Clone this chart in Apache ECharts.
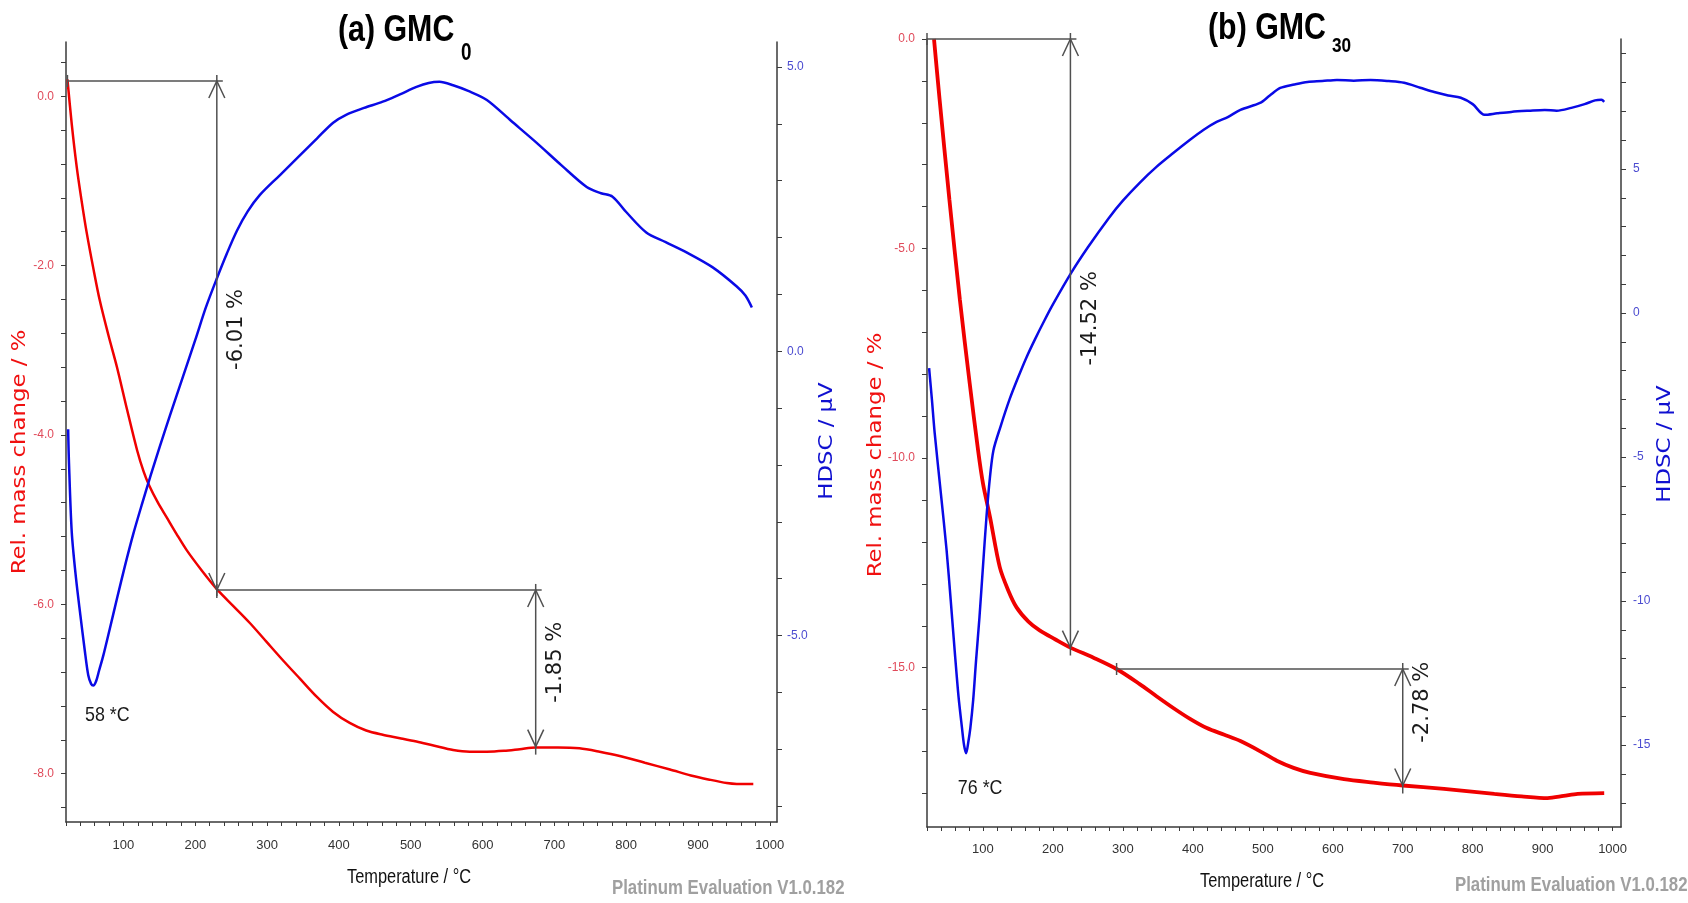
<!DOCTYPE html>
<html>
<head>
<meta charset="utf-8">
<script src="https://cdn.jsdelivr.net/npm/echarts@6/dist/echarts.min.js"></script>
<style>html,body{margin:0;padding:0;background:#fff;}#c{width:1688px;height:903px;}</style>
</head>
<body>
<div id="c"></div>
<script>
// ---------- DATA ----------
// (a) GMC0 : [temperature °C, value]
const massA = [[22,0.20],[28,-0.33],[35,-0.84],[42,-1.25],[49,-1.62],[58,-2.03],[67,-2.41],[79,-2.82],[91,-3.20],[105,-3.70],[119,-4.18],[128,-4.43],[136,-4.60],[148,-4.80],[160,-4.97],[174,-5.17],[188,-5.36],[209,-5.60],[230,-5.82],[253,-6.02],[276,-6.22],[299,-6.44],[322,-6.66],[346,-6.88],[369,-7.09],[392,-7.27],[415,-7.40],[438,-7.49],[461,-7.54],[485,-7.58],[508,-7.62],[533,-7.67],[559,-7.72],[582,-7.74],[606,-7.74],[630,-7.73],[652,-7.71],[674,-7.69],[705,-7.69],[735,-7.70],[763,-7.74],[791,-7.79],[826,-7.87],[861,-7.95],[890,-8.02],[916,-8.07],[940,-8.11],[954,-8.12],[977,-8.12]];
const hdscA = [[23,-1.37],[24,-1.90],[28,-3.18],[34,-4.00],[40,-4.64],[46,-5.25],[51,-5.70],[55,-5.85],[58,-5.88],[62,-5.80],[66,-5.62],[72,-5.35],[81,-4.88],[91,-4.35],[102,-3.78],[114,-3.20],[126,-2.68],[138,-2.18],[150,-1.70],[165,-1.12],[183,-0.44],[200,0.20],[215,0.78],[230,1.28],[244,1.72],[258,2.12],[273,2.46],[290,2.75],[318,3.10],[346,3.45],[370,3.75],[392,4.02],[410,4.16],[435,4.28],[461,4.39],[485,4.52],[508,4.65],[525,4.72],[540,4.74],[559,4.68],[580,4.58],[606,4.42],[640,4.05],[675,3.67],[710,3.27],[745,2.89],[765,2.78],[781,2.72],[800,2.45],[828,2.09],[855,1.92],[884,1.74],[920,1.48],[954,1.14],[966,0.98],[975,0.77]];
// (b) GMC30
const massB = [[30,0.00],[38,-1.44],[52,-3.83],[67,-6.22],[81,-8.21],[93,-9.81],[100,-10.60],[110,-11.40],[124,-12.60],[136,-13.15],[148,-13.56],[165,-13.90],[181,-14.11],[203,-14.32],[225,-14.52],[258,-14.76],[291,-15.03],[324,-15.39],[348,-15.68],[372,-15.96],[396,-16.22],[420,-16.44],[445,-16.60],[468,-16.75],[497,-17.00],[520,-17.22],[544,-17.39],[568,-17.51],[616,-17.66],[658,-17.74],[700,-17.81],[759,-17.89],[831,-18.01],[870,-18.07],[907,-18.11],[930,-18.06],[950,-18.01],[988,-17.99]];
const hdscB = [[23,-1.91],[27,-3.00],[31,-4.17],[40,-6.30],[48,-8.23],[54,-10.00],[59.5,-11.70],[65,-13.30],[70,-14.40],[73,-15.00],[76,-15.28],[79,-14.90],[82,-14.40],[86,-13.44],[90,-12.10],[95,-10.56],[100,-8.80],[105,-7.08],[110,-5.70],[115,-4.76],[125,-3.95],[138,-3.00],[150,-2.25],[162,-1.55],[175,-0.88],[188,-0.25],[200,0.30],[225,1.35],[250,2.28],[280,3.30],[300,3.90],[324,4.52],[348,5.07],[372,5.55],[396,6.01],[415,6.35],[434,6.63],[450,6.80],[468,7.05],[496,7.29],[510,7.55],[525,7.81],[545,7.93],[564,8.02],[585,8.05],[606,8.09],[630,8.06],[654,8.09],[680,8.05],[702,7.99],[725,7.82],[745,7.67],[765,7.55],[783,7.47],[800,7.25],[817,6.88],[835,6.93],[855,6.98],[880,7.02],[903,7.05],[920,7.02],[941,7.12],[960,7.25],[975,7.38],[984,7.40],[988,7.33]];

// step annotations: [horizontal start °C, step °C, upper %, lower %]
const stepsA = [[22,230,0.18,-5.83],[230,674,-5.83,-7.68]];
const stepLabelsA = ['-6.01 %','-1.85 %'];
const stepsB = [[20,225,0.00,-14.52],[291,700,-15.03,-17.81]];
const stepLabelsB = ['-14.52 %','-2.78 %'];

// peak labels
const peakA = [[58,'58 *C']];
const peakB = [[76,'76 *C']];

// axis ranges and tick values
const xRangeA = [20,1010], xRangeB = [20,1012];
const massRangeA = [-8.57,0.64], hdscRangeA = [-8.28,5.44];
const massRangeB = [-18.8,0.0], hdscRangeB = [-17.84,9.51];
const xTicks = [20,40,60,80,100,120,140,160,180,200,220,240,260,280,300,320,340,360,380,400,420,440,460,480,500,520,540,560,580,600,620,640,660,680,700,720,740,760,780,800,820,840,860,880,900,920,940,960,980,1000];
const xLabels = [100,200,300,400,500,600,700,800,900,1000];
const massTicksA = [-8.4,-8.0,-7.6,-7.2,-6.8,-6.4,-6.0,-5.6,-5.2,-4.8,-4.4,-4.0,-3.6,-3.2,-2.8,-2.4,-2.0,-1.6,-1.2,-0.8,-0.4,0.0,0.4];
const massLabelsA = [-8,-6,-4,-2,0];
const hdscTicksA = [-8,-7,-6,-5,-4,-3,-2,-1,0,1,2,3,4,5];
const hdscLabelsA = [-5,0,5];
const massTicksB = [-18,-17,-16,-15,-14,-13,-12,-11,-10,-9,-8,-7,-6,-5,-4,-3,-2,-1,0];
const massLabelsB = [-15,-10,-5,0];
const hdscTicksB = [-17,-16,-15,-14,-13,-12,-11,-10,-9,-8,-7,-6,-5,-4,-3,-2,-1,0,1,2,3,4,5,6,7,8,9];
const hdscLabelsB = [-15,-10,-5,0,5];

// ---------- STYLE ----------
const NARROW = "'Liberation Sans Narrow','Arial Narrow','Liberation Sans',sans-serif";
const SANS = "'Liberation Sans',Arial,sans-serif";
const VERD = "'DejaVu Sans',Verdana,sans-serif";
const RED = '#f00000', BLUE = '#0a0ae6';
const RED_LBL = '#e04a5a', BLUE_LBL = '#4b4bd0';
const AXIS = '#3a3a3a';

function xAxisCfg(grid, range, margin) {
  return {
    type:'value', gridIndex:grid, min:range[0], max:range[1],
    axisLine:{show:true, onZero:false, lineStyle:{color:AXIS, width:1.5}},
    axisTick:{show:true, length:4, customValues:xTicks, lineStyle:{color:AXIS}},
    axisLabel:{customValues:xLabels, margin:margin, color:'#333', fontSize:13, fontFamily:NARROW, formatter:v => String(v)},
    splitLine:{show:false}
  };
}
function yAxisCfg(grid, range, pos, ticks, labels, color, fmt, margin) {
  return {
    type:'value', gridIndex:grid, position:pos, min:range[0], max:range[1],
    axisLine:{show:true, onZero:false, lineStyle:{color:AXIS, width:1.5}},
    axisTick:{show:true, length:5, customValues:ticks, lineStyle:{color:AXIS}},
    axisLabel:{customValues:labels, margin:margin, color:color, fontSize:12, fontFamily:NARROW, formatter:fmt},
    splitLine:{show:false}
  };
}
const f1 = v => Number(v).toFixed(1);
const f0 = v => String(Math.round(v));

function stepSeries(xi, yi, steps, labels, labelShift) {
  return {
    type:'custom', xAxisIndex:xi, yAxisIndex:yi, silent:true, z:5,
    data: steps,
    renderItem: function(params, api) {
      const p0 = api.coord([api.value(0), api.value(2)]);
      const p1 = api.coord([api.value(1), api.value(2)]);
      const p2 = api.coord([api.value(1), api.value(3)]);
      const cx = p1[0], top = p1[1], by = p2[1];
      const ls = {stroke:'#505050', lineWidth:1.5, fill:null};
      const ah = 17, aw = 8;
      return {
        type:'group',
        children:[
          {type:'line', shape:{x1:p0[0], y1:top, x2:cx+6, y2:top}, style:ls},
          {type:'line', shape:{x1:p0[0], y1:top-6, x2:p0[0], y2:top+6}, style:ls},
          {type:'line', shape:{x1:cx, y1:top-6, x2:cx, y2:by+8}, style:ls},
          {type:'polyline', shape:{points:[[cx-aw, top+ah],[cx, top],[cx+aw, top+ah]]}, style:ls},
          {type:'polyline', shape:{points:[[cx-aw, by-ah],[cx, by],[cx+aw, by-ah]]}, style:ls},
          {type:'text', x:cx+20, y:(top+by)/2 + labelShift, rotation:Math.PI/2,
           style:{text:labels[params.dataIndex], font:'21px ' + VERD, fill:'#1a1a1a', align:'center', verticalAlign:'middle'}}
        ]
      };
    }
  };
}
function peakSeries(xi, yi, peaks, dataset, dy) {
  return {
    type:'custom', xAxisIndex:xi, yAxisIndex:yi, silent:true, z:6,
    data: peaks.map(p => [p[0]]),
    renderItem: function(params, api) {
      const t = api.value(0);
      let best = dataset[0];
      dataset.forEach(d => { if (Math.abs(d[0]-t) < Math.abs(best[0]-t)) best = d; });
      const pt = api.coord([t, best[1]]);
      return {type:'text', x:pt[0]+14, y:pt[1]+dy, scaleX:0.85,
        style:{text:peaks[params.dataIndex][1], font:'21px ' + SANS, fill:'#1a1a1a', align:'center', verticalAlign:'middle'}};
    }
  };
}

const option = {
  animation:false,
  backgroundColor:'#fff',
  grid:[
    {left:66, top:42, width:711, height:780},
    {left:927, top:39, width:694, height:788}
  ],
  xAxis:[ xAxisCfg(0, xRangeA, 17), xAxisCfg(1, xRangeB, 16) ],
  yAxis:[
    yAxisCfg(0, massRangeA, 'left', massTicksA, massLabelsA, RED_LBL, f1, 12),
    yAxisCfg(0, hdscRangeA, 'right', hdscTicksA, hdscLabelsA, BLUE_LBL, f1, 10),
    yAxisCfg(1, massRangeB, 'left', massTicksB, massLabelsB, RED_LBL, f1, 12),
    yAxisCfg(1, hdscRangeB, 'right', hdscTicksB, hdscLabelsB, BLUE_LBL, f0, 12)
  ],
  series:[
    {type:'line', name:'massA', xAxisIndex:0, yAxisIndex:0, data:massA, showSymbol:false, smooth:0.3, lineStyle:{color:RED, width:2.5}, z:3},
    {type:'line', name:'hdscA', xAxisIndex:0, yAxisIndex:1, data:hdscA, showSymbol:false, smooth:0.3, lineStyle:{color:BLUE, width:2.5}, z:3},
    {type:'line', name:'massB', xAxisIndex:1, yAxisIndex:2, data:massB, showSymbol:false, smooth:0.3, lineStyle:{color:RED, width:3.8}, z:3},
    {type:'line', name:'hdscB', xAxisIndex:1, yAxisIndex:3, data:hdscB, showSymbol:false, smooth:0.3, lineStyle:{color:BLUE, width:2.5}, z:3},
    stepSeries(0, 0, stepsA, stepLabelsA, -6),
    stepSeries(1, 2, stepsB, stepLabelsB, -25),
    peakSeries(0, 1, peakA, hdscA, 30),
    peakSeries(1, 3, peakB, hdscB, 35)
  ],
  graphic:[
    {type:'text', x:338, y:31, scaleX:0.82, style:{text:'(a) GMC', font:'bold 37px ' + SANS, fill:'#000', align:'left', verticalAlign:'middle'}},
    {type:'text', x:461, y:54, scaleX:0.82, style:{text:'0', font:'bold 23px ' + SANS, fill:'#000', align:'left', verticalAlign:'middle'}},
    {type:'text', x:1208, y:29, scaleX:0.82, style:{text:'(b) GMC', font:'bold 37px ' + SANS, fill:'#000', align:'left', verticalAlign:'middle'}},
    {type:'text', x:1332, y:46, scaleX:0.82, style:{text:'30', font:'bold 21px ' + SANS, fill:'#000', align:'left', verticalAlign:'middle'}},
    {type:'text', x:20, y:452, rotation:Math.PI/2, scaleX:1.2, style:{text:'Rel. mass change / %', font:'19px ' + VERD, fill:'#f01010', align:'center', verticalAlign:'middle'}},
    {type:'text', x:827, y:441, rotation:Math.PI/2, scaleX:1.2, style:{text:'HDSC / µV', font:'19px ' + VERD, fill:'#1010d0', align:'center', verticalAlign:'middle'}},
    {type:'text', x:876, y:455, rotation:Math.PI/2, scaleX:1.2, style:{text:'Rel. mass change / %', font:'19px ' + VERD, fill:'#f01010', align:'center', verticalAlign:'middle'}},
    {type:'text', x:1665, y:444, rotation:Math.PI/2, scaleX:1.2, style:{text:'HDSC / µV', font:'19px ' + VERD, fill:'#1010d0', align:'center', verticalAlign:'middle'}},
    {type:'text', x:409, y:877, scaleX:0.82, style:{text:'Temperature / °C', font:'20px ' + SANS, fill:'#111', align:'center', verticalAlign:'middle'}},
    {type:'text', x:1262, y:881, scaleX:0.82, style:{text:'Temperature / °C', font:'20px ' + SANS, fill:'#111', align:'center', verticalAlign:'middle'}},
    {type:'text', x:612, y:888, scaleX:0.8, style:{text:'Platinum Evaluation V1.0.182', font:'bold 21px ' + SANS, fill:'#a0a0a0', align:'left', verticalAlign:'middle'}},
    {type:'text', x:1455, y:885, scaleX:0.8, style:{text:'Platinum Evaluation V1.0.182', font:'bold 21px ' + SANS, fill:'#a0a0a0', align:'left', verticalAlign:'middle'}}
  ]
};
const chart = echarts.init(document.getElementById('c'), null, {renderer:'canvas'});
chart.setOption(option);
</script>
</body>
</html>
